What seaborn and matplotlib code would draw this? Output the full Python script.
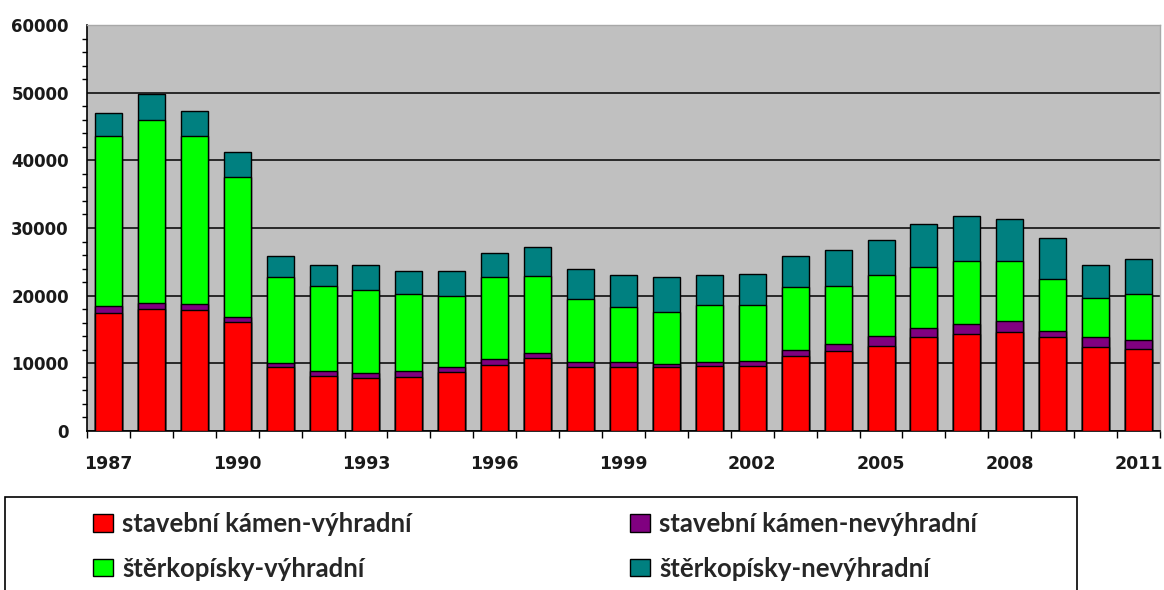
import matplotlib
matplotlib.use('Agg')
import pandas as pd
import matplotlib.pyplot as plt
import seaborn as sns
from matplotlib.patches import Patch, Rectangle
from matplotlib.ticker import MultipleLocator, FixedLocator, NullFormatter

# data
years = list(range(1987, 2012))
kamen_vyhradni = [17400, 18000, 17900, 16150, 9400, 8150, 7900, 8050, 8650, 9750,
                  10850, 9400, 9400, 9400, 9650, 9650, 11100, 11850, 12600, 13850,
                  14300, 14650, 13850, 12350, 12100]
kamen_nevyhradni = [1000, 900, 800, 750, 650, 750, 650, 850, 750, 900,
                    750, 750, 750, 500, 600, 650, 850, 1000, 1500, 1400,
                    1500, 1550, 1000, 1500, 1400]
sterk_vyhradni = [25200, 27000, 24900, 20650, 12700, 12600, 12300, 11350, 10600, 12100,
                  11350, 9400, 8150, 7750, 8300, 8250, 9300, 8650, 8900, 9000,
                  9300, 8900, 7650, 5750, 6750]
sterk_nevyhradni = [3350, 3950, 3650, 3700, 3100, 3100, 3750, 3450, 3700, 3600,
                    4200, 4450, 4800, 5100, 4550, 4600, 4550, 5200, 5200, 6300,
                    6600, 6250, 5950, 4950, 5200]
series_names = ['stavební kámen-výhradní', 'stavební kámen-nevýhradní',
                'štěrkopísky-výhradní', 'štěrkopísky-nevýhradní']
colors = ['#ff0000', '#800080', '#00ff00', '#008080']
label_years = years[::3]

df = pd.DataFrame({'rok': years,
                   series_names[0]: kamen_vyhradni,
                   series_names[1]: kamen_nevyhradni,
                   series_names[2]: sterk_vyhradni,
                   series_names[3]: sterk_nevyhradni})
cum = df[series_names].cumsum(axis=1)
cum['rok'] = df['rok']

sns.set_style('white')
plt.rcParams['font.family'] = ['DejaVu Sans']

fig = plt.figure(figsize=(11.64, 5.90), dpi=100)
ax = fig.add_axes([87 / 1164, 1 - 431 / 590, 1073 / 1164, 406 / 590])
ax.set_facecolor('#c0c0c0')

# stacked bars: draw cumulative totals from the top layer down
for name, col in reversed(list(zip(series_names, colors))):
    sns.barplot(data=cum, x='rok', y=name, color=col, saturation=1, width=0.63,
                edgecolor='black', linewidth=1.0, ax=ax, zorder=3)

ax.set_xlim(-0.5, len(years) - 0.5)
ax.set_ylim(0, 60000)
ax.set_xlabel('')
ax.set_ylabel('')

ax.yaxis.set_major_locator(MultipleLocator(10000))
ax.yaxis.set_minor_locator(MultipleLocator(2000))
ax.grid(axis='y', which='major', color='black', linewidth=1.1, zorder=1)
ax.set_axisbelow(True)

# x ticks at category boundaries, labels every third year
ax.xaxis.set_major_locator(FixedLocator([i - 0.5 for i in range(len(years) + 1)]))
ax.xaxis.set_major_formatter(NullFormatter())
ax.xaxis.set_minor_locator(FixedLocator([years.index(y) for y in label_years]))
ax.set_xticklabels([str(y) for y in label_years], minor=True)

ax.tick_params(axis='y', which='major', direction='out', length=5, width=1,
               color='black', pad=8, labelsize=12)
ax.tick_params(axis='y', which='minor', direction='out', length=3.5, width=1,
               color='black', left=True)
ax.tick_params(axis='x', which='major', direction='out', length=5, width=1,
               color='black', bottom=True)
ax.tick_params(axis='x', which='minor', length=0, pad=17, labelsize=12.5)
for lab in ax.get_yticklabels() + ax.get_xticklabels(minor=True):
    lab.set_fontweight('bold')
    lab.set_color('#1a1a1a')

for side in ['left', 'bottom']:
    ax.spines[side].set_color('black')
    ax.spines[side].set_linewidth(1.2)
for side in ['top', 'right']:
    ax.spines[side].set_color('#a8a8a8')
    ax.spines[side].set_linewidth(1.0)

# legend box, cut off by the bottom of the figure like the reference
fig.patches.append(Rectangle((5 / 1164, -0.05), 1072 / 1164, 0.05 + 1 - 497 / 590,
                             transform=fig.transFigure, facecolor='white',
                             edgecolor='black', linewidth=1.2))
leg_kw = dict(frameon=False, loc='upper left', borderpad=0, borderaxespad=0,
              handlelength=0.78, handleheight=0.66, handletextpad=0.35,
              labelspacing=0.8, prop={'family': 'Lato', 'weight': 'bold', 'size': 18.5})
for col_idx, x0 in [((0, 2), 93), ((1, 3), 630)]:
    handles = [Patch(facecolor=colors[i], edgecolor='black', linewidth=1.0) for i in col_idx]
    fig.legend(handles, [series_names[i] for i in col_idx],
               bbox_to_anchor=(x0 / 1164, 1 - 512 / 590), **leg_kw)

fig.savefig('out.png', dpi=100)
